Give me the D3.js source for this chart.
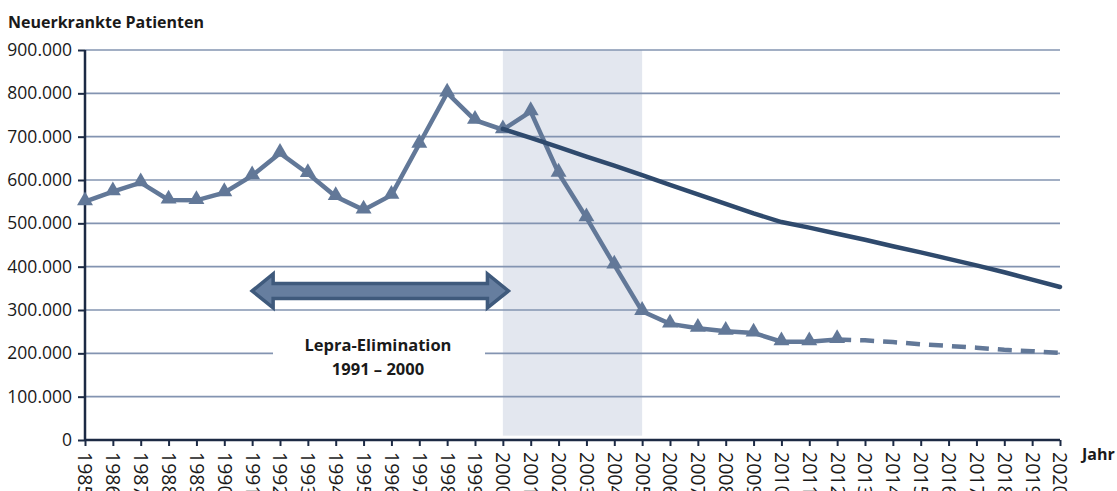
<!DOCTYPE html>
<html><head><meta charset="utf-8">
<script src="https://cdn.jsdelivr.net/npm/d3@7"></script>
<style>body{margin:0;background:#fff}svg{display:block}text{font-family:"Open Sans",sans-serif}</style>
</head><body><svg id="c" width="1117" height="491"></svg>
<script>
const years = d3.range(1985, 2021);
const actualYears = [1985,1986,1987,1988,1989,1990,1991,1992,1993,1994,1995,1996,1997,1998,1999,2000,2001,2002,2003,2004,2005,2006,2007,2008,2009,2010,2011,2012];
const actualValues = [550000,573000,594000,554000,553000,571000,610000,662000,615000,562000,531000,565000,683000,801000,738000,716000,758000,616000,513000,404000,297000,268000,258000,251000,247000,227000,227000,232000];
const projYears = [2012,2013,2014,2015,2016,2017,2018,2019,2020];
const projValues = [232000,230000,226000,221000,217000,213000,208000,205000,201000];
const targetYears = [2000,2001,2002,2003,2004,2005,2006,2007,2008,2009,2010,2011,2012,2013,2014,2015,2016,2017,2018,2019,2020];
const targetValues = [718000,697000,676000,654000,633000,611000,589000,567000,545000,523000,503000,490000,476000,462000,447000,433000,418000,403000,387000,370000,353000];
const yTicks = [0,100000,200000,300000,400000,500000,600000,700000,800000,900000];
const shadeRange = [2000, 2005];
const arrowRange = [1991, 2000.2];
const arrowValue = 344000;
const labelLines = ["Lepra-Elimination", "1991 – 2000"];

const svg = d3.select("#c");
const x = d3.scaleLinear().domain([1985, 2020]).range([85, 1060]);
const y = d3.scaleLinear().domain([0, 900000]).range([440, 50]);
const fmt = v => v === 0 ? "0" : d3.format(",")(v).replace(/,/g, ".");

// shaded band
svg.append("rect").attr("x", x(shadeRange[0])).attr("width", x(shadeRange[1]) - x(shadeRange[0]))
  .attr("y", y(900000)).attr("height", y(10000) - y(900000)).attr("fill", "#e3e7ef");

// gridlines
svg.append("g").selectAll("line").data(yTicks.filter(d => d > 0)).join("line")
  .attr("x1", x(1985)).attr("x2", x(2020)).attr("y1", d => y(d)).attr("y2", d => y(d))
  .attr("stroke", "#8394b1").attr("stroke-width", 1.6);

// label background
svg.append("rect").attr("x", 273).attr("y", 330).attr("width", 212).attr("height", 48).attr("fill", "#fff");
svg.append("g").selectAll("text").data(labelLines).join("text")
  .attr("x", 378).attr("y", (d, i) => 351 + i * 24).attr("text-anchor", "middle")
  .attr("font-size", 16.5).attr("font-weight", 700).attr("fill", "#1a1a1a").text(d => d);

// arrow
(function(){
  const x0 = x(arrowRange[0]), x1 = x(arrowRange[1]), cy = y(arrowValue);
  const sh = 7.5, hh = 17, hl = 21;
  const p = [[x0, cy],[x0+hl, cy-hh],[x0+hl, cy-sh],[x1-hl, cy-sh],[x1-hl, cy-hh],[x1, cy],[x1-hl, cy+hh],[x1-hl, cy+sh],[x0+hl, cy+sh],[x0+hl, cy+hh]];
  svg.append("path").attr("d", "M" + p.join("L") + "Z").attr("fill", "#667e9f")
    .attr("stroke", "#3f5a7c").attr("stroke-width", 3.5).attr("stroke-linejoin", "miter");
})();

// y axis
const ya = svg.append("g").attr("transform", `translate(${x(1985)},0)`)
  .call(d3.axisLeft(y).tickValues(yTicks).tickFormat(fmt).tickSize(7).tickPadding(6));
ya.select(".domain").attr("stroke", "#1c2a44").attr("stroke-width", 2.5).attr("d", `M0,${y(900000)}V${y(0)}`);
ya.selectAll(".tick line").attr("stroke", "#1c2a44").attr("stroke-width", 2);
ya.selectAll(".tick text").attr("font-size", 17.5).attr("fill", "#1a1a1a").attr("font-family", "Open Sans");

// x axis
const xa = svg.append("g").attr("transform", `translate(0,${y(0)})`)
  .call(d3.axisBottom(x).tickValues(years).tickFormat(d3.format("d")).tickSize(6));
xa.select(".domain").attr("stroke", "#1c2a44").attr("stroke-width", 2.5).attr("d", `M${x(1985)},0H${x(2020)}`);
xa.selectAll(".tick line").attr("stroke", "#1c2a44").attr("stroke-width", 2);
xa.selectAll(".tick text").attr("font-size", 19.5).attr("fill", "#1a1a1a").attr("font-family", "Open Sans")
  .attr("transform", "rotate(90)").attr("x", 12).attr("y", 0).attr("dy", "0.36em").attr("text-anchor", "start");

// lines
const line = d3.line().x(d => x(d[0])).y(d => y(d[1]));
const act = actualYears.map((d, i) => [d, actualValues[i]]);
const proj = projYears.map((d, i) => [d, projValues[i]]);
const targ = targetYears.map((d, i) => [d, targetValues[i]]);

svg.append("path").datum(proj).attr("d", line).attr("fill", "none").attr("stroke", "#627898")
  .attr("stroke-width", 4.5).attr("stroke-dasharray", "14,9");
svg.append("path").datum(act).attr("d", line).attr("fill", "none").attr("stroke", "#627898")
  .attr("stroke-width", 4.5).attr("stroke-linejoin", "miter");
svg.append("g").selectAll("path").data(act).join("path")
  .attr("d", d3.symbol().type(d3.symbolTriangle).size(110))
  .attr("transform", d => `translate(${x(d[0])},${y(d[1]) - 1})`).attr("fill", "#627898");
svg.append("path").datum(targ).attr("d", line).attr("fill", "none").attr("stroke", "#2f4a6d")
  .attr("stroke-width", 4.5).attr("stroke-linecap", "round");

// titles
svg.append("text").attr("x", 8).attr("y", 28).attr("font-size", 16).attr("font-weight", 700).attr("fill", "#1a1a1a").text("Neuerkrankte Patienten");
svg.append("text").attr("x", 1082).attr("y", 460).attr("font-size", 16).attr("font-weight", 700).attr("fill", "#1a1a1a").text("Jahr");
</script></body></html>
